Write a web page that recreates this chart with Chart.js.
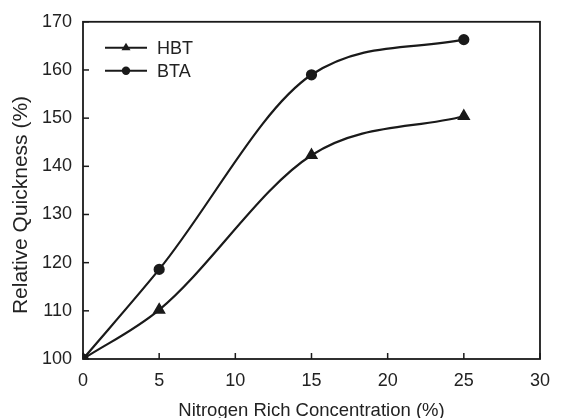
<!DOCTYPE html>
<html><head><meta charset="utf-8">
<script src="https://cdn.jsdelivr.net/npm/chart.js@4"></script>
<style>html,body{margin:0;padding:0;background:#fff}#wrap{width:561px;height:418px}</style>
</head><body><div id="wrap"><canvas id="c"></canvas></div>
<script>
const concentrations = [0, 5, 15, 25];
const hbtValues = [100, 110.2, 142.3, 150.4];
const btaValues = [100, 118.6, 159.0, 166.3];
const seriesNames = ['HBT', 'BTA'];
const xTicks = [0, 5, 10, 15, 20, 25, 30];
const yTicks = [100, 110, 120, 130, 140, 150, 160, 170];
const xTitle = 'Nitrogen Rich Concentration (%)';
const yTitle = 'Relative Quickness (%)';

const INK = '#1a1a1a';
const FONT = '"Liberation Sans", Arial, sans-serif';

const frame = {
  id: 'frame',
  afterDatasetsDraw(chart) {
    const {ctx, chartArea: a, scales} = chart;
    ctx.save();
    ctx.strokeStyle = INK; ctx.lineWidth = 1.8;
    ctx.strokeRect(a.left, a.top, a.right - a.left, a.bottom - a.top);
    ctx.lineWidth = 1.5;
    scales.x.ticks.forEach(t => {
      const px = scales.x.getPixelForValue(t.value);
      ctx.beginPath(); ctx.moveTo(px, a.bottom); ctx.lineTo(px, a.bottom - 6); ctx.stroke();
    });
    scales.y.ticks.forEach(t => {
      const py = scales.y.getPixelForValue(t.value);
      ctx.beginPath(); ctx.moveTo(a.left, py); ctx.lineTo(a.left + 6, py); ctx.stroke();
    });
    // legend
    chart.data.datasets.forEach((ds, i) => {
      const y = a.top + 26 + i * 23;
      const x0 = a.left + 22, x1 = a.left + 64;
      ctx.strokeStyle = INK; ctx.lineWidth = 2;
      ctx.beginPath(); ctx.moveTo(x0, y); ctx.lineTo(x1, y); ctx.stroke();
      ctx.fillStyle = INK;
      const cx = (x0 + x1) / 2;
      if (ds.pointStyle === 'triangle') {
        ctx.beginPath(); ctx.moveTo(cx, y - 5); ctx.lineTo(cx + 4.5, y + 2.5); ctx.lineTo(cx - 4.5, y + 2.5); ctx.closePath(); ctx.fill();
      } else {
        ctx.beginPath(); ctx.arc(cx, y, 4.2, 0, Math.PI * 2); ctx.fill();
      }
      ctx.font = '18px ' + FONT; ctx.textBaseline = 'middle'; ctx.textAlign = 'left';
      ctx.fillStyle = '#222';
      ctx.fillText(ds.label, x1 + 10, y + 1);
    });
    // y-axis title
    ctx.save();
    ctx.translate(21, 205);
    ctx.rotate(-Math.PI / 2);
    ctx.font = '21px ' + FONT; ctx.textAlign = 'center'; ctx.textBaseline = 'middle';
    ctx.fillStyle = '#222';
    ctx.fillText(yTitle, 0, 0);
    ctx.restore();
    ctx.restore();
  }
};

new Chart(document.getElementById('c'), {
  type: 'line',
  data: {
    datasets: [
      { label: seriesNames[0], data: concentrations.map((x, i) => ({x, y: hbtValues[i]})),
        borderColor: INK, backgroundColor: INK, borderWidth: 2.2, pointStyle: 'triangle', pointRadius: 5.5, cubicInterpolationMode: 'monotone' },
      { label: seriesNames[1], data: concentrations.map((x, i) => ({x, y: btaValues[i]})),
        borderColor: INK, backgroundColor: INK, borderWidth: 2.2, pointStyle: 'circle', pointRadius: 4.5, cubicInterpolationMode: 'monotone' }
    ]
  },
  options: {
    responsive: true, maintainAspectRatio: false, animation: false,
    layout: { padding: { top: 21, right: 11, left: 0, bottom: 0 } },
    plugins: { legend: { display: false }, tooltip: { enabled: false } },
    scales: {
      x: { type: 'linear', min: 0, max: 30,
        afterBuildTicks: s => { s.ticks = xTicks.map(v => ({value: v})); },
        afterFit: s => { s.height = 59; },
        grid: { display: false, drawTicks: false }, border: { display: false },
        ticks: { color: '#222', font: { family: FONT, size: 18 }, padding: 11, maxRotation: 0 },
        title: { display: true, text: xTitle, color: '#222', font: { family: FONT, size: 18.5, lineHeight: 0.8 }, padding: { top: 0, bottom: 0 } } },
      y: { type: 'linear', min: 100, max: 170,
        afterBuildTicks: s => { s.ticks = yTicks.map(v => ({value: v})); },
        afterFit: s => { s.width = 83; },
        grid: { display: false, drawTicks: false }, border: { display: false },
        ticks: { color: '#222', font: { family: FONT, size: 18 }, padding: 11 },
        title: { display: false } }
    }
  },
  plugins: [frame]
});
</script></body></html>
